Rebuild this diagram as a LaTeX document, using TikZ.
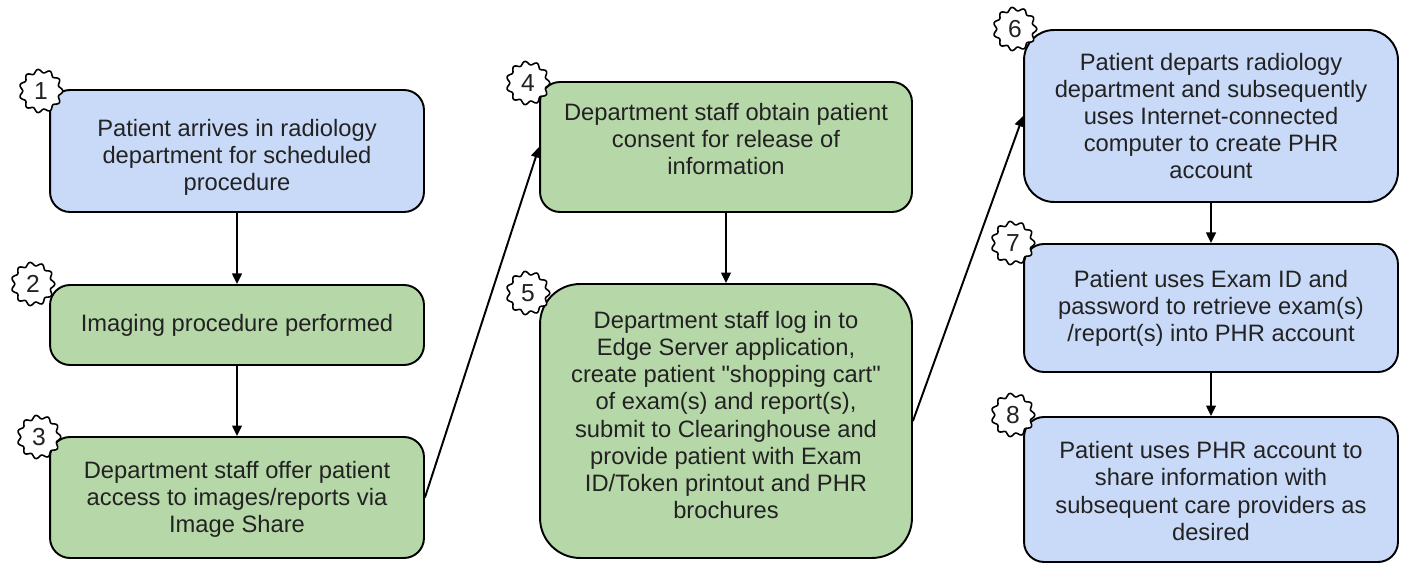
\documentclass[tikz,border=0pt]{standalone}
\usepackage{fontspec}
\setmainfont{Liberation Sans}
\usetikzlibrary{arrows.meta,calc}
\definecolor{bblue}{HTML}{C9DAF8}
\definecolor{bgreen}{HTML}{B6D7A8}
\definecolor{txt}{HTML}{222222}
\begin{document}
\begin{tikzpicture}[x=0.02cm,y=-0.02cm,
  box/.style={draw=black, line width=1.1pt, rounded corners=0.4cm, inner sep=0pt},
  bluebox/.style={box, fill=bblue},
  greenbox/.style={box, fill=bgreen},
  label text/.style={align=center, text=txt, font=\fontsize{13.5}{15.4}\selectfont, inner sep=0pt},
  conn/.style={line width=1.1pt, -{Triangle[length=6pt,width=5.5pt]}},
  badgetxt/.style={circle, inner sep=0pt, minimum size=0.6cm, text=txt, font=\fontsize{14}{16}\selectfont},
  badgeline/.style={draw=black, line width=0.9pt, fill=white}
]
\useasboundingbox (0,0) rectangle (1404,570);

\node[bluebox, minimum width=7.48cm, minimum height=2.44cm] (b1) at (237,151) {};
\node[label text] (t1) at (237,157)
  {Patient arrives in radiology\\department for scheduled\\procedure};
\node[greenbox, minimum width=7.48cm, minimum height=1.6cm] (b2) at (237,325) {};
\node[label text] (t2) at (237,325) {Imaging procedure performed};
\node[greenbox, minimum width=7.48cm, minimum height=2.42cm] (b3) at (237,497.5) {};
\node[label text] (t3) at (237,499)
  {Department staff offer patient\\access to images/reports via\\Image Share};
\node[greenbox, minimum width=7.44cm, minimum height=2.6cm] (b4) at (726,147) {};
\node[label text] (t4) at (726,139)
  {Department staff obtain patient\\consent for release of\\information};
\node[greenbox, rounded corners=0.8cm, minimum width=7.44cm, minimum height=5.48cm] (b5) at (726,421) {};
\node[label text] (t5) at (726,415)
  {Department staff log in to\\Edge Server application,\\create patient \textquotedbl shopping cart\textquotedbl\\of exam(s) and report(s),\\submit to Clearinghouse and\\provide patient with Exam\\ID/Token printout and PHR\\brochures};
\node[bluebox, rounded corners=0.6cm, minimum width=7.48cm, minimum height=3.44cm] (b6) at (1211,116) {};
\node[label text] (t6) at (1211,116)
  {Patient departs radiology\\department and subsequently\\uses Internet-connected\\computer to create PHR\\account};
\node[bluebox, minimum width=7.48cm, minimum height=2.56cm] (b7) at (1211,308) {};
\node[label text] (t7) at (1211,308)
  {Patient uses Exam ID and\\password to retrieve exam(s)\\/report(s) into PHR account};
\node[bluebox, minimum width=7.48cm, minimum height=2.9cm] (b8) at (1211,489.5) {};
\node[label text] (t8) at (1211,491)
  {Patient uses PHR account to\\share information with\\subsequent care providers as\\desired};

\draw[conn] (b1.south) -- (b2.north);
\draw[conn] (b2.south) -- (b3.north);
\draw[conn] (b3.east) -- (b4.west);
\draw[conn] (b4.south) -- (b5.north);
\draw[conn] (b5.east) -- (b6.west);
\draw[conn] (b6.south) -- (b7.north);
\draw[conn] (b7.south) -- (b8.north);

\foreach \n/\px/\py in {1/41/91, 2/33/284, 3/39/437, 4/528/83, 5/528/293, 6/1015/29, 7/1013/243, 8/1013/415} {
  \coordinate (c\n) at (\px,\py);
  \draw[badgeline, shift={(c\n)}] plot[domain=0:360, samples=241, smooth]
    (\x:{0.4cm+0.035cm*cos(11*\x)}) -- cycle;
  \node[badgetxt] (n\n) at (c\n) {\n};
}
\end{tikzpicture}
\end{document}
